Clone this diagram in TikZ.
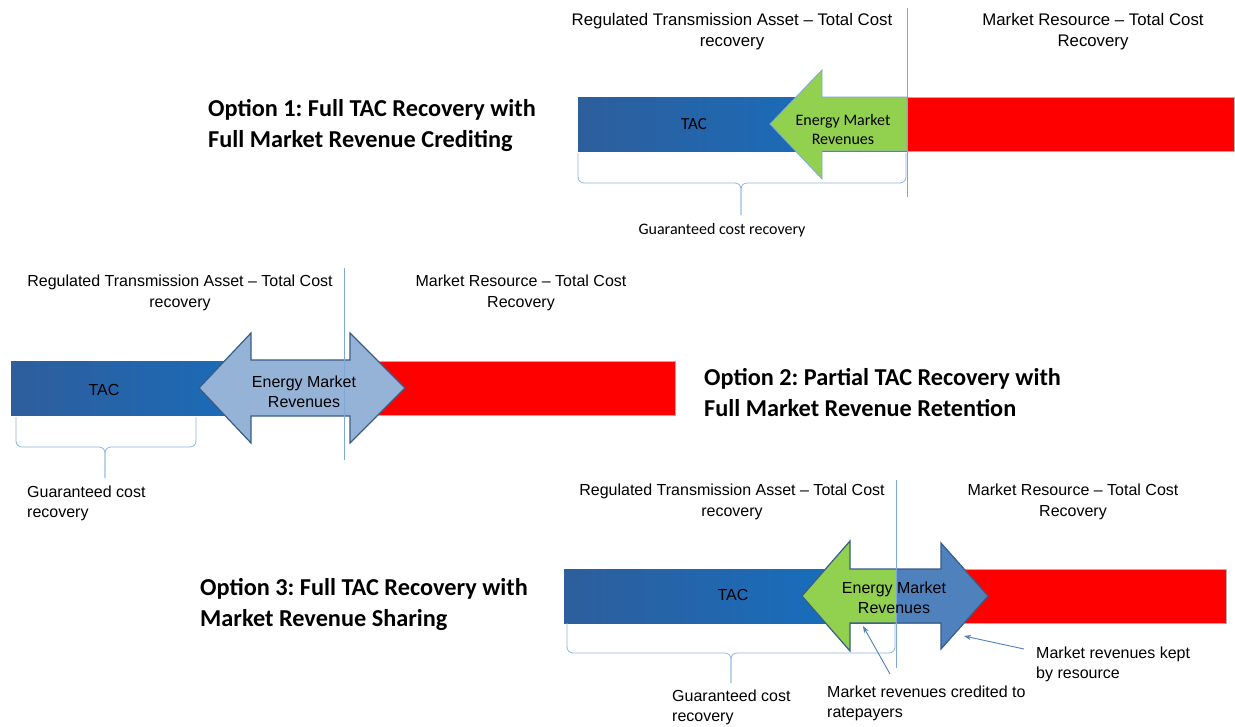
\documentclass[tikz,border=0pt]{standalone}
\usepackage{fontspec}
\setmainfont{Liberation Sans}
\newfontfamily\calibri{Carlito}
\usetikzlibrary{arrows.meta}
\frenchspacing
\definecolor{barL}{HTML}{2E5E9C}
\definecolor{barR}{HTML}{1271C4}
\definecolor{redbar}{HTML}{FF0000}
\definecolor{greenarr}{HTML}{92D050}
\definecolor{lightarr}{HTML}{95B3D7}
\definecolor{bluearr}{HTML}{4F81BD}
\definecolor{arredge}{HTML}{385D8A}
\definecolor{guide}{HTML}{7FA7D9}
\definecolor{bracecol}{HTML}{8DB4E2}
\tikzset{
  hdr/.style={font=\fontsize{16}{21}\selectfont, align=center, inner sep=0},
  hdrbig/.style={font=\fontsize{16.8}{21}\selectfont, align=center, inner sep=0},
  ttl/.style={font=\calibri\bfseries\fontsize{24.3}{31}\selectfont, align=left, inner sep=0, anchor=west},
  lbl/.style={font=\fontsize{16}{20}\selectfont, align=left, inner sep=0},
  clbl/.style={font=\calibri\fontsize{16}{19}\selectfont, align=center, inner sep=0},
  redbox/.style={fill=redbar, draw=gray!60, line width=0.6},
  bracestyle/.style={draw=bracecol, line width=0.8, rounded corners=6},
  guideline/.style={draw=guide, line width=0.8},
  ptr/.style={draw=bluearr, line width=0.9, -{Stealth[length=7pt,width=5pt]}}
}
\begin{document}
\begin{tikzpicture}[x=1pt,y=-1pt]
\useasboundingbox (0,0) rectangle (1235,726);
\fill[white] (0,0) rectangle (1235,726);

% ---------------- Option 1 ----------------
\node[hdrbig] (h1a) at (732,31.5) {Regulated Transmission Asset -- Total Cost\\recovery};
\node[hdrbig] (h1b) at (1093,31.5) {Market Resource -- Total Cost\\Recovery};
\shade[left color=barL, right color=barR] (578,97) rectangle (907,151);
\path[redbox] (907,97) rectangle (1234,151);
\path[fill=greenarr, draw=guide, line width=0.8]
  (907,97) -- (822,97) -- (822,70) -- (770,124) -- (822,179) -- (822,151) -- (907,151) -- cycle;
\path[guideline] (907,8) -- (907,197);
\node[clbl, font=\calibri\fontsize{17}{19}\selectfont] (tac1) at (694,124) {TAC};
\node[clbl] (emr1) at (843,129.5) {Energy Market\\Revenues};
\path[bracestyle] (578,153) -- (578,183) -- (741,183) -- (741,215);
\path[bracestyle] (906,153) -- (906,183) -- (741,183) -- (741,215);
\node[clbl] (g1) at (722,230) {Guaranteed cost recovery};
\node[ttl] (t1) at (208,125.5) {Option 1: Full TAC Recovery with\\Full Market Revenue Crediting};

% ---------------- Option 2 ----------------
\node[hdr] (h2a) at (180,293) {Regulated Transmission Asset -- Total Cost\\recovery};
\node[hdr] (h2b) at (521,293) {Market Resource -- Total Cost\\Recovery};
\shade[left color=barL, right color=barR] (11,361) rectangle (344,415);
\path[redbox] (344,361) rectangle (675,415);
\path[fill=lightarr, draw=arredge, line width=1.2]
  (199,388) -- (251,333) -- (251,360) -- (350,360) -- (350,333) -- (405,388)
  -- (350,443) -- (350,416) -- (251,416) -- (251,443) -- cycle;
\path[guideline] (344,268) -- (344,460);
\node[lbl] (tac2) at (104,390) {TAC};
\node[lbl, align=center] (emr2) at (304,391.5) {Energy Market\\Revenues};
\path[bracestyle] (16,417) -- (16,447) -- (105,447) -- (105,478);
\path[bracestyle] (196,417) -- (196,447) -- (105,447) -- (105,478);
\node[lbl, anchor=west] (g2) at (27,503) {Guaranteed cost\\recovery};
\node[ttl] (t2) at (704,393) {Option 2: Partial TAC Recovery with\\Full Market Revenue Retention};

% ---------------- Option 3 ----------------
\node[hdr] (h3a) at (732,501.5) {Regulated Transmission Asset -- Total Cost\\recovery};
\node[hdr] (h3b) at (1073,501.5) {Market Resource -- Total Cost\\Recovery};
\shade[left color=barL, right color=barR] (564,569) rectangle (896,623);
\path[redbox] (896,569) rectangle (1226,623);
\path[fill=greenarr]
  (896,569) -- (850,569) -- (850,541) -- (802,596) -- (850,651) -- (850,623) -- (896,623) -- cycle;
\path[fill=bluearr]
  (896,569) -- (941,569) -- (941,543) -- (988,596) -- (941,649) -- (941,623) -- (896,623) -- cycle;
\path[draw=arredge, line width=1.2]
  (802,596) -- (850,541) -- (850,569) -- (941,569) -- (941,543) -- (988,596)
  -- (941,649) -- (941,623) -- (850,623) -- (850,651) -- cycle;
\path[guideline] (896,480) -- (896,668);
\node[lbl] (tac3) at (733,595) {TAC};
\node[lbl, align=center] (emr3) at (894,597.5) {Energy Market\\Revenues};
\path[bracestyle] (567,623) -- (567,653) -- (731,653) -- (731,683);
\path[bracestyle] (895,623) -- (895,653) -- (731,653) -- (731,683);
\node[lbl, anchor=west] (g3) at (672,707.5) {Guaranteed cost\\recovery};
\node[lbl, anchor=west] (cred) at (827,703) {Market revenues credited to\\ratepayers};
\node[lbl, anchor=west] (kept) at (1036,664) {Market revenues kept\\by resource};
\coordinate (s1) at (890,674);
\coordinate (p1) at (863,626);
\coordinate (s2) at (1024,649);
\coordinate (p2) at (964,636);
\draw[ptr] (s1) -- (p1);
\draw[ptr] (s2) -- (p2);
\node[ttl] (t3) at (200,605) {Option 3: Full TAC Recovery with\\Market Revenue Sharing};
\end{tikzpicture}
\end{document}
